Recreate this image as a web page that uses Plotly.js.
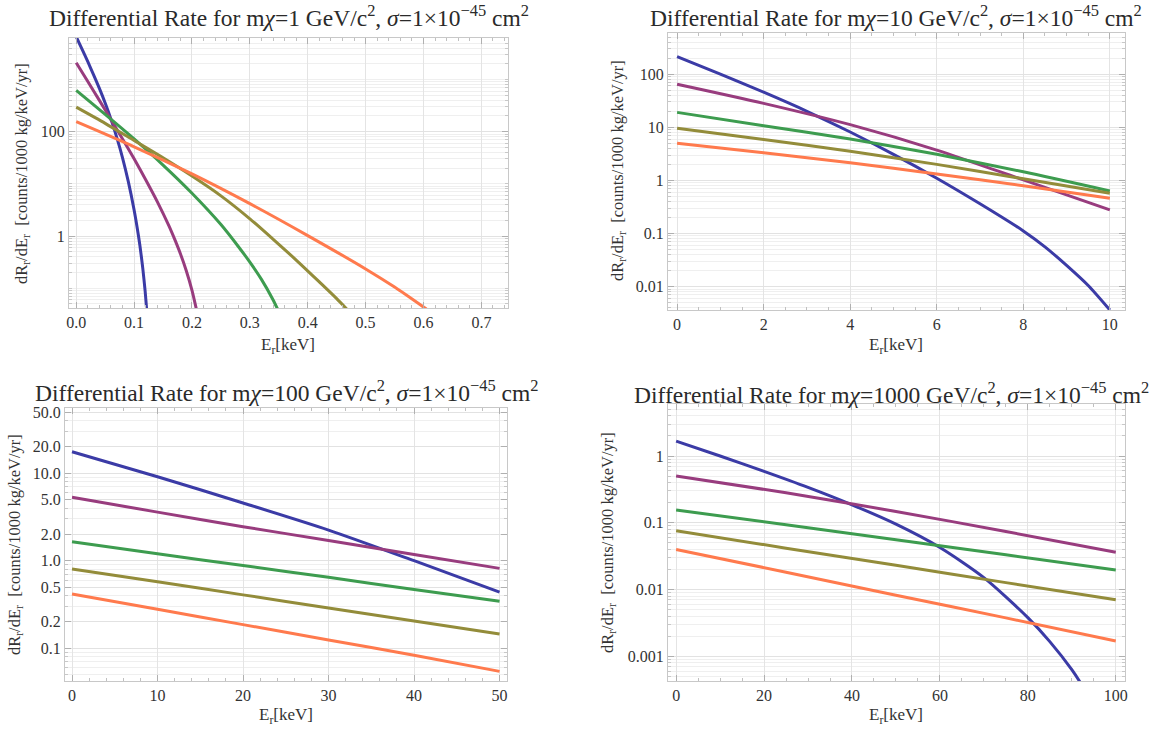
<!DOCTYPE html>
<html>
<head>
<meta charset="utf-8">
<script src="https://cdn.plot.ly/plotly-3.0.1.min.js"></script>
<style>html,body{margin:0;padding:0;background:#fff;}#chart{width:1155px;height:732px;}</style>
</head>
<body>
<div id="chart"></div>
<script>
// ---------- DATA ----------
const seriesColors = ['#3b3ba6', '#983c7e', '#3d9c4f', '#938c3a', '#ff7a4d'];

// Panel 1: m_chi = 1 GeV
const p1BlueX   = [0, 0.01, 0.02, 0.03, 0.04, 0.05, 0.06, 0.07, 0.08, 0.09, 0.10, 0.105, 0.11, 0.115, 0.119, 0.122];
const p1BlueY   = [6607, 3802, 2188, 1230, 676, 355, 174, 77.6, 31.6, 11.0, 3.16, 1.51, 0.66, 0.24, 0.089, 0.035];
const p1PurpleX = [0, 0.02, 0.04, 0.06, 0.08, 0.10, 0.12, 0.14, 0.16, 0.17, 0.18, 0.19, 0.20, 0.21];
const p1PurpleY = [2089, 912, 398, 170, 72.4, 30.2, 12.0, 4.57, 1.58, 0.87, 0.457, 0.219, 0.091, 0.030];
const p1GreenX  = [0, 0.05, 0.10, 0.15, 0.20, 0.25, 0.28, 0.30, 0.32, 0.34, 0.35];
const p1GreenY  = [616.6, 213.8, 72.4, 22.9, 6.61, 1.66, 0.631, 0.316, 0.148, 0.0603, 0.0355];
const p1OliveX  = [0, 0.05, 0.10, 0.15, 0.20, 0.25, 0.30, 0.35, 0.38, 0.42, 0.45, 0.47];
const p1OliveY  = [295, 144.5, 67.6, 31.6, 14.1, 5.89, 2.14, 0.692, 0.347, 0.132, 0.0631, 0.0372];
const p1OrangeX = [0, 0.1, 0.2, 0.3, 0.4, 0.5, 0.55, 0.605];
const p1OrangeY = [155, 51.3, 15.5, 4.17, 1.02, 0.234, 0.105, 0.0398];

// Panel 2: m_chi = 10 GeV
const p2BlueX   = [0, 1, 2, 3, 4, 5, 6, 7, 8, 8.5, 9, 9.5, 10];
const p2BlueY   = [213.8, 100, 45.7, 20.0, 8.13, 3.09, 1.10, 0.363, 0.112, 0.0562, 0.0251, 0.0105, 0.00363];
const p2X       = [0, 2, 4, 6, 8, 10];
const p2PurpleY = [64.6, 28.2, 11.2, 3.72, 1.02, 0.279];
const p2GreenY  = [19.05, 10.7, 6.03, 3.09, 1.45, 0.631];
const p2OliveY  = [9.55, 5.89, 3.55, 2.0, 1.07, 0.575];
const p2OrangeY = [5.01, 3.31, 2.14, 1.32, 0.794, 0.462];

// Panel 3: m_chi = 100 GeV
const p3X       = [0, 10, 20, 30, 40, 50];
const p3BlueY   = [17.6, 9.12, 4.57, 2.24, 1.0, 0.437];
const p3PurpleY = [5.30, 3.59, 2.45, 1.70, 1.175, 0.817];
const p3GreenY  = [1.65, 1.20, 0.881, 0.646, 0.468, 0.343];
const p3OliveY  = [0.804, 0.575, 0.407, 0.288, 0.204, 0.145];
const p3OrangeY = [0.416, 0.279, 0.186, 0.124, 0.0832, 0.0543];

// Panel 4: m_chi = 1000 GeV
const p4BlueX   = [0, 10, 20, 30, 40, 50, 60, 70, 80, 85, 90, 92, 94];
const p4BlueY   = [1.675, 1.0, 0.589, 0.339, 0.186, 0.0955, 0.0427, 0.0151, 0.0038, 0.00166, 0.000631, 0.000398, 0.000234];
const p4X       = [0, 25, 50, 75, 100];
const p4PurpleY = [0.501, 0.282, 0.148, 0.0741, 0.0361];
const p4GreenY  = [0.156, 0.0933, 0.0556, 0.0331, 0.0197];
const p4OliveY  = [0.0759, 0.0417, 0.0231, 0.0127, 0.00702];
const p4OrangeY = [0.0398, 0.0182, 0.00822, 0.00376, 0.0017];

// Tick labels
const p1XTicks = [0, 0.1, 0.2, 0.3, 0.4, 0.5, 0.6, 0.7];
const p1XText  = ['0.0', '0.1', '0.2', '0.3', '0.4', '0.5', '0.6', '0.7'];
const p1YTicks = [1, 100];
const p1YText  = ['1', '100'];
const p2XTicks = [0, 2, 4, 6, 8, 10];
const p2YTicks = [0.01, 0.1, 1, 10, 100];
const p2YText  = ['0.01', '0.1', '1', '10', '100'];
const p3XTicks = [0, 10, 20, 30, 40, 50];
const p3YTicks = [0.1, 0.2, 0.5, 1, 2, 5, 10, 20, 50];
const p3YText  = ['0.1', '0.2', '0.5', '1.0', '2.0', '5.0', '10.0', '20.0', '50.0'];
const p4XTicks = [0, 20, 40, 60, 80, 100];
const p4YTicks = [0.001, 0.01, 0.1, 1];
const p4YText  = ['0.001', '0.01', '0.1', '1'];

const massLabels = ['1', '10', '100', '1000'];

// ---------- BUILD ----------
function line(x, y, ci, ax) {
  return {x: x, y: y, type: 'scatter', mode: 'lines', xaxis: 'x' + ax, yaxis: 'y' + ax,
    line: {color: seriesColors[ci], width: 3, shape: 'spline', smoothing: 0.7},
    showlegend: false, hoverinfo: 'skip'};
}
const data = [
  line(p1BlueX, p1BlueY, 0, ''), line(p1PurpleX, p1PurpleY, 1, ''), line(p1GreenX, p1GreenY, 2, ''),
  line(p1OliveX, p1OliveY, 3, ''), line(p1OrangeX, p1OrangeY, 4, ''),
  line(p2BlueX, p2BlueY, 0, '2'), line(p2X, p2PurpleY, 1, '2'), line(p2X, p2GreenY, 2, '2'),
  line(p2X, p2OliveY, 3, '2'), line(p2X, p2OrangeY, 4, '2'),
  line(p3X, p3BlueY, 0, '3'), line(p3X, p3PurpleY, 1, '3'), line(p3X, p3GreenY, 2, '3'),
  line(p3X, p3OliveY, 3, '3'), line(p3X, p3OrangeY, 4, '3'),
  line(p4BlueX, p4BlueY, 0, '4'), line(p4X, p4PurpleY, 1, '4'), line(p4X, p4GreenY, 2, '4'),
  line(p4X, p4OliveY, 3, '4'), line(p4X, p4OrangeY, 4, '4')
];

function stepVals(a, b, s) { const v = []; for (let t = a; t <= b + 1e-9; t += s) v.push(+t.toFixed(6)); return v; }
function logMinor(e0, e1) { const v = []; for (let e = e0; e <= e1; e++) for (let d = 1; d <= 9; d++) v.push(d * Math.pow(10, e)); return v; }

const SERIF = 'Liberation Serif';
function tickFont() { return {family: SERIF, size: 16, color: '#333333'}; }
function xAxis(domain, range, tickvals, ticktext, minorStep, anchor) {
  return {domain: domain, range: range, anchor: anchor, tickmode: 'array', tickvals: tickvals,
    ticktext: ticktext || tickvals.map(String),
    showline: true, linecolor: '#c8c8c8', linewidth: 1, mirror: 'ticks',
    ticks: 'inside', ticklen: 6, tickcolor: '#b0b0b0', tickwidth: 1,
    showgrid: true, gridcolor: '#e4e4e4', gridwidth: 1, zeroline: false,
    tickfont: tickFont(), fixedrange: true,
    minor: {tickmode: 'array', tickvals: stepVals(range[0] < 0 ? 0 : range[0], range[1], minorStep),
      ticks: 'inside', ticklen: 3, tickcolor: '#c0c0c0', showgrid: false}};
}
function yAxis(domain, range, tickvals, ticktext, anchor) {
  return {domain: domain, range: range, type: 'log', anchor: anchor, tickmode: 'array', tickvals: tickvals,
    ticktext: ticktext,
    showline: true, linecolor: '#c8c8c8', linewidth: 1, mirror: 'ticks',
    ticks: 'inside', ticklen: 6, tickcolor: '#b0b0b0', tickwidth: 1,
    showgrid: true, gridcolor: '#e2e2e2', gridwidth: 1, zeroline: false,
    tickfont: tickFont(), fixedrange: true,
    minor: {tickmode: 'array', tickvals: logMinor(Math.floor(range[0]), Math.ceil(range[1])),
      ticks: 'inside', ticklen: 3, tickcolor: '#c8c8c8', showgrid: true, gridcolor: '#efefef', gridwidth: 1}};
}

const W = 1155, H = 732;
const px = v => v / W, py = v => 1 - v / H;

const layout = {
  width: W, height: H, margin: {l: 0, r: 0, t: 0, b: 0},
  paper_bgcolor: '#ffffff', plot_bgcolor: '#ffffff', showlegend: false,
  font: {family: SERIF},
  xaxis:  xAxis([px(69), px(508)], [-0.0125, 0.746], p1XTicks, p1XText, 0.02, 'y'),
  yaxis:  yAxis([py(308), py(38)], [-1.379, 3.795], p1YTicks, p1YText, 'x'),
  xaxis2: xAxis([px(668), px(1125)], [-0.21, 10.35], p2XTicks, null, 0.5, 'y2'),
  yaxis2: yAxis([py(310), py(32.7)], [-2.44, 2.78], p2YTicks, p2YText, 'x2'),
  xaxis3: xAxis([px(65), px(507)], [-0.82, 50.87], p3XTicks, null, 2, 'y3'),
  yaxis3: yAxis([py(681), py(408.3)], [-1.375, 1.742], p3YTicks, p3YText, 'x3'),
  xaxis4: xAxis([px(668), px(1125)], [-1.85, 102.1], p4XTicks, null, 5, 'y4'),
  yaxis4: yAxis([py(681), py(404.3)], [-3.37, 0.775], p4YTicks, p4YText, 'x4'),
  annotations: []
};

const titlePos = [[289, 16], [896, 16], [286, 391], [891, 393]];
titlePos.forEach((p, i) => {
  layout.annotations.push({xref: 'paper', yref: 'paper', x: px(p[0]), y: py(p[1]), xanchor: 'center', yanchor: 'middle',
    showarrow: false, font: {family: SERIF, size: 23.5, color: '#2a2a2a'},
    text: 'Differential Rate for m<i>χ</i>=' + massLabels[i] + ' GeV/c<sup>2</sup>, <i>σ</i>=1×10<sup>−45</sup> cm<sup>2</sup>'});
});
const yTitlePos = [[22, 174], [618, 171], [15, 545], [608, 543]];
yTitlePos.forEach(p => {
  layout.annotations.push({xref: 'paper', yref: 'paper', x: px(p[0]), y: py(p[1]), xanchor: 'center', yanchor: 'middle',
    textangle: -90, showarrow: false, font: {family: SERIF, size: 16.5, color: '#333333'},
    text: 'dR<sub>r</sub>/dE<sub>r</sub>  [counts/1000 kg/keV/yr]'});
});
const xTitlePos = [[288, 346], [896, 346], [286, 716], [896, 716]];
xTitlePos.forEach(p => {
  layout.annotations.push({xref: 'paper', yref: 'paper', x: px(p[0]), y: py(p[1]), xanchor: 'center', yanchor: 'middle',
    showarrow: false, font: {family: SERIF, size: 17, color: '#333333'},
    text: 'E<sub>r</sub>[keV]'});
});

Plotly.newPlot('chart', data, layout, {staticPlot: true, displayModeBar: false});
</script>
</body>
</html>
